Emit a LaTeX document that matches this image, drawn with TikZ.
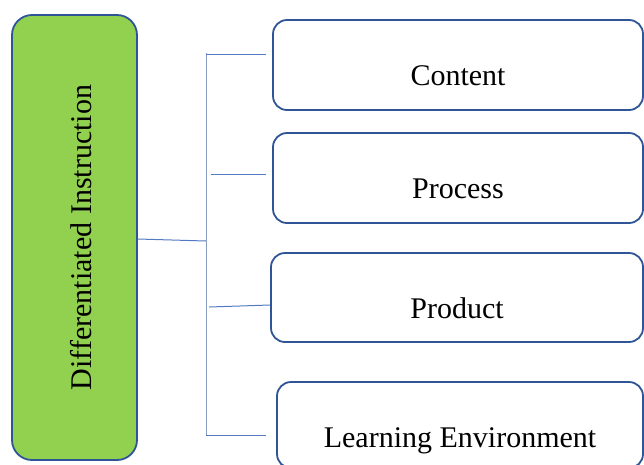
\documentclass[tikz,border=0pt]{standalone}
\usepackage{fontspec}
\setmainfont{Liberation Serif}
\definecolor{leafgreen}{HTML}{92D050}
\definecolor{frameblue}{HTML}{2F5597}
\definecolor{barblue}{HTML}{8A9CC0}
\definecolor{branchblue}{HTML}{5479C0}
\tikzset{
  x=1pt, y=-1pt,
  rootbox/.style={draw=frameblue, line width=1.8pt, fill=leafgreen,
    rounded corners=20pt, inner sep=0pt},
  itembox/.style={draw=frameblue, line width=1.8pt, fill=white,
    rounded corners=14pt, inner sep=0pt, minimum height=90pt,
    text height=41pt, text depth=0pt,
    font=\fontsize{30}{36}\selectfont},
  bar/.style={draw=barblue, line width=1pt},
  branch/.style={draw=branchblue, line width=1pt},
}
\begin{document}
\begin{tikzpicture}
  \useasboundingbox (0,0) rectangle (644,464);

  % root block with its vertical title
  \node[rootbox, minimum width=125pt, minimum height=445pt] (di) at (74.5,237.5) {};
  \node[rotate=90, inner sep=0pt, font=\fontsize{30}{36}\selectfont] (ditext) at (81,237.5)
    {Differentiated Instruction};

  % the four dimensions
  \node[itembox, minimum width=370pt] (c)  at (458,65)    {Content};
  \node[itembox, minimum width=370pt] (pc) at (458,178)   {Process};
  \node[itembox, minimum width=372pt, minimum height=89pt] (pd) at (457,297.5) {Product};
  \node[itembox, minimum width=366pt, minimum height=86pt, text height=44pt] (le) at (460,425)
    {Learning Environment};

  % bracket joining the root to the dimensions
  \coordinate (hub) at (206,241);
  \coordinate (bt)  at (206,53);
  \coordinate (bb)  at (206,436);
  \coordinate (j1)  at (206,54.5);
  \coordinate (j2)  at (211,174);
  \coordinate (j3)  at (209,307);
  \coordinate (j4)  at (206,435);

  \draw[branch] ([yshift=-1.5pt]di.east) -- (hub);
  \draw[bar] (bt) -- (bb);
  \draw[branch] (j1) -- ([xshift=-6pt]j1 -| c.west);
  \draw[branch] (j2) -- ([xshift=-6pt]j2 -| pc.west);
  \draw[branch] (j3) -- ([yshift=2pt]j3 -| pd.west);
  \draw[branch] (j4) -- ([xshift=-10pt]j4 -| le.west);
\end{tikzpicture}
\end{document}
